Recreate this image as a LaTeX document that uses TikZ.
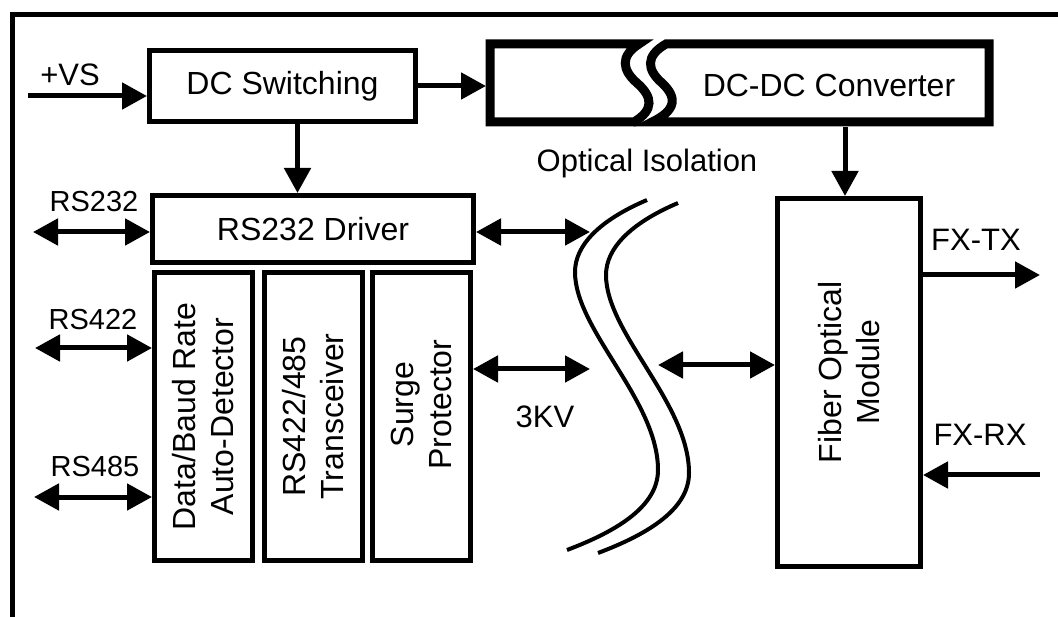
\documentclass[tikz,border=0pt]{standalone}
\usepackage{fontspec}
\setmainfont{Liberation Sans}
\usetikzlibrary{arrows.meta}
\tikzset{
  blk/.style={draw,line width=5pt,inner sep=0pt,align=center,font=\fontsize{32}{38}\selectfont},
  txt/.style={inner sep=0pt,align=center,font=\fontsize{32}{38}\selectfont},
  lbl/.style={inner sep=0pt,font=\fontsize{31}{37}\selectfont},
  rslbl/.style={inner sep=0pt,font=\fontsize{29}{35}\selectfont},
  arr/.style={line width=5pt,-{Triangle[length=25pt,width=26pt]}},
  darr/.style={line width=5pt,{Triangle[length=25pt,width=26pt]}-{Triangle[length=25pt,width=26pt]}},
}
\begin{document}
\begin{tikzpicture}[x=1pt,y=-1pt]
            \useasboundingbox (0,0) rectangle (1058,617);
            \draw[line width=5pt] (12,617) --(12,15) --(1058,15);
            % blocks
            \node[blk,minimum width=266pt,minimum height=71pt] (dcsw) at (282.5,86) {DC Switching};
            \node[blk,minimum width=321pt,minimum height=67pt] (drv) at (313,229) {RS232 Driver};
            \node[blk,rotate=90,minimum width=288pt,minimum height=98pt] (det) at (203.5,416.5) {Data/Baud Rate\\Auto-Detector};
            \node[blk,rotate=90,minimum width=288pt,minimum height=98pt] (trx) at (313.5,416.5) {RS422/485\\Transceiver};
            \node[blk,rotate=90,minimum width=288pt,minimum height=98pt] (srg) at (421.5,416.5) {};
            \node[txt,rotate=90] (srgtxt) at ([yshift=12pt]srg.center) {Surge\\Protector};
            \node[blk,rotate=90,minimum width=368pt,minimum height=143pt] (fom) at (849,382.5) {};
            \node[txt,rotate=90] (fomtxt) at ([yshift=10pt]fom.center) {Fiber Optical\\Module};
            % broken DC-DC box
            \node[txt] (dcdc) at (829,85) {DC-DC Converter};
            \draw[line width=9pt] (639,44) --(490,44) --(490,122) --(634,122) .. controls (654,110) and (653,97) .. (637,83) .. controls (622,70) and (620,56) .. (639,44) -- cycle;
            \draw[line width=9pt] (666,44) --(989,44) --(989,122) --(652,122) .. controls (677,110) and (677,97) .. (662,83) .. controls (647,70) and (645,56) .. (666,44) -- cycle;
            % optical isolation
            \node[lbl] (iso) at (647,163) {Optical Isolation};
            \draw[line width=4pt] (647,200) .. controls (600,220) and (575,245) .. (575,272) .. controls (575,330) and (658,400) .. (658,470) .. controls (658,505) and (620,530) .. (567,550);
            \draw[line width=4pt,shift={(31,3)}] (647,200) .. controls (600,220) and (575,245) .. (575,272) .. controls (575,330) and (658,400) .. (658,470) .. controls (658,505) and (620,530) .. (567,550);
            \node[lbl] (kv) at (545,417) {3KV};
            % power
            \node[lbl] (vs) at (70,75) {+VS};
            \coordinate (vsin) at (28,96);
            \draw[arr] (vsin) --(vsin -| dcsw.west);
            \coordinate (dcdcin) at (486,86);
            \draw[arr] (dcsw.east) --(dcdcin);
            \draw[arr] ([xshift=15pt]dcsw.south) --([xshift=15pt]dcsw.south |- drv.north);
            \coordinate (dcdcout) at (845,127);
            \draw[arr] (dcdcout) --(dcdcout |- fom.east);
            % serial ports
            \node[rslbl] (l232) at (94,202) {RS232};
            \node[rslbl] (l422) at (93,320) {RS422};
            \node[rslbl] (l485) at (95,467) {RS485};
            \coordinate (rs232) at (33,232);
            \coordinate (rs422) at (35,348);
            \coordinate (rs485) at (34,497);
            \draw[darr] (rs232) --(rs232 -| drv.west);
            \draw[darr] (rs422) --(rs422 -| det.north);
            \draw[darr] (rs485) --(rs485 -| det.north);
            % across the isolation
            \coordinate (isoa) at (590,232);
            \coordinate (isob) at (590,369);
            \coordinate (isoc) at (658,365);
            \draw[darr] (drv.east |- isoa) --(isoa);
            \draw[darr] (srg.south |- isob) --(isob);
            \draw[darr] (isoc) --(isoc -| fom.north);
            % fiber side
            \node[lbl] (ltx) at (976,240) {FX-TX};
            \node[lbl] (lrx) at (980,435) {FX-RX};
            \coordinate (fxtx) at (1040,275);
            \coordinate (fxrx) at (1040,475);
            \draw[arr] (fxtx -| fom.south) --(fxtx);
            \draw[arr] (fxrx) --(fxrx -| fom.south);
        \end{tikzpicture}
\end{document}
